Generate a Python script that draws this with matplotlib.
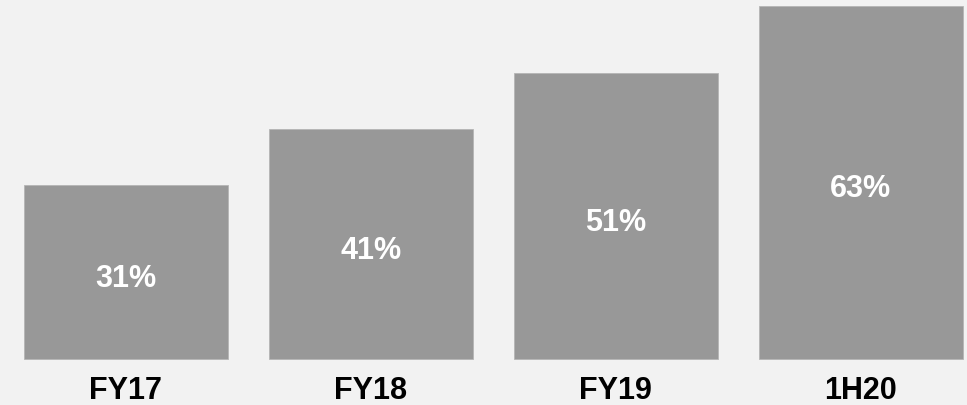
import matplotlib.pyplot as plt

# data
categories = ["FY17", "FY18", "FY19", "1H20"]
values = [31, 41, 51, 63]
labels = ["31%", "41%", "51%", "63%"]

bg = "#f2f2f2"
bar_color = "#989898"

plt.rcParams['font.family'] = ['Liberation Sans', 'DejaVu Sans']

fig = plt.figure(figsize=(9.67, 4.06), dpi=100, facecolor=bg)
ax = fig.add_axes([0, 0, 1, 1])
ax.set_facecolor(bg)

x = range(len(categories))
ax.bar(x, values, width=0.833, color=bar_color, edgecolor="#b5b5b5", linewidth=0.6)

for i, v in enumerate(values):
    ax.text(i, v / 2 - 1.0, labels[i], ha="center", va="center",
            color="white", fontsize=22, fontweight="bold")
    ax.text(i, -5.5, categories[i], ha="center", va="center",
            color="black", fontsize=22, fontweight="bold")

ax.set_xlim(-0.514, 3.433)
ax.set_ylim(-8.2, 64.2)
ax.axis("off")

fig.savefig("out.png", dpi=100, facecolor=bg)
